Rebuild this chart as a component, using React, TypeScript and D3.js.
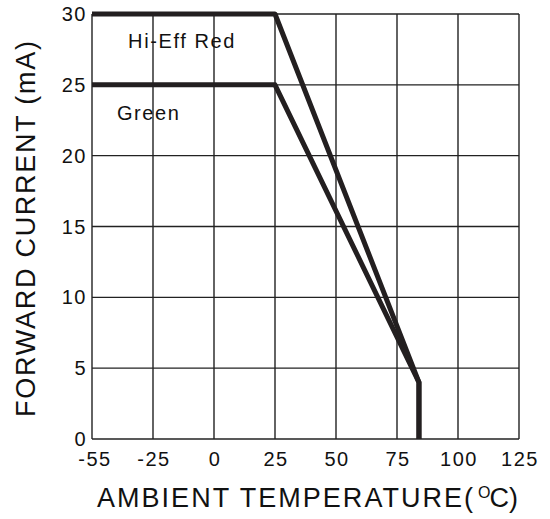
import { useRef, useEffect } from 'react';
import * as d3 from 'd3';

// Tick values and labels
const xTickValues = [-50, -25, 0, 25, 50, 75, 100, 125];
const xTickLabels = ['-55', '-25', '0', '25', '50', '75', '100', '125'];
const yTickValues = [0, 5, 10, 15, 20, 25, 30];

// Derating curves
const redTemp = [-50, 25, 84, 84];
const redCurrent = [30, 30, 4, 0];
const greenTemp = [-50, 25, 84, 84];
const greenCurrent = [25, 25, 4, 0];

const seriesLabels = ['Hi-Eff Red', 'Green'];
const labelTemp = [-35.2, -39.8];
const labelCurrent = [27.6, 22.5];

function App() {
    const svgRef = useRef<SVGSVGElement | null>(null);

    const width = 550;
    const height = 519;
    const margin = { left: 92, top: 14, right: 31, bottom: 80 };
    const font = 'Liberation Sans, Arial, sans-serif';

    useEffect(() => {
        const svg = d3.select(svgRef.current);
        svg.selectAll('*').remove();

        const x = d3.scaleLinear().domain([-50, 125]).range([margin.left, width - margin.right]);
        const y = d3.scaleLinear().domain([0, 30]).range([height - margin.bottom, margin.top]);

        // Grid
        const grid = svg.append('g').attr('stroke', '#222').attr('stroke-width', 1.4);
        grid.selectAll('line.v')
            .data(xTickValues)
            .join('line')
            .attr('class', 'v')
            .attr('x1', (d) => x(d))
            .attr('x2', (d) => x(d))
            .attr('y1', y(0))
            .attr('y2', y(30));
        grid.selectAll('line.h')
            .data(yTickValues)
            .join('line')
            .attr('class', 'h')
            .attr('x1', x(-50))
            .attr('x2', x(125))
            .attr('y1', (d) => y(d))
            .attr('y2', (d) => y(d));

        // Tick labels
        svg.append('g')
            .selectAll('text')
            .data(xTickValues)
            .join('text')
            .attr('x', (d, i) => x(d) + (i === 0 ? 3 : 1))
            .attr('y', y(0) + 27)
            .attr('text-anchor', 'middle')
            .attr('font-family', font)
            .attr('font-size', 20)
            .attr('letter-spacing', 1.5)
            .attr('fill', '#111')
            .text((d, i) => xTickLabels[i]);

        svg.append('g')
            .selectAll('text')
            .data(yTickValues)
            .join('text')
            .attr('x', margin.left - 5)
            .attr('y', (d) => y(d) + 7)
            .attr('text-anchor', 'end')
            .attr('font-family', font)
            .attr('font-size', 20)
            .attr('letter-spacing', 1.5)
            .attr('fill', '#111')
            .text((d) => `${d}`);

        // Curves
        const makeLine = (ts: number[], cs: number[]) =>
            d3.line<number>().x((d) => x(d)).y((d, i) => y(cs[i]))(ts);

        [
            [redTemp, redCurrent],
            [greenTemp, greenCurrent],
        ].forEach(([ts, cs]) => {
            svg.append('path')
                .attr('d', makeLine(ts, cs))
                .attr('fill', 'none')
                .attr('stroke', '#231f20')
                .attr('stroke-width', 5)
                .attr('stroke-linejoin', 'round');
        });

        // Series labels
        svg.append('g')
            .selectAll('text')
            .data(seriesLabels)
            .join('text')
            .attr('x', (d, i) => x(labelTemp[i]))
            .attr('y', (d, i) => y(labelCurrent[i]))
            .attr('font-family', font)
            .attr('font-size', 20)
            .attr('letter-spacing', 1.6)
            .attr('fill', '#111')
            .text((d) => d);

        // Axis titles
        const xTitle = svg
            .append('text')
            .attr('x', 97)
            .attr('y', 507)
            .attr('font-family', font)
            .attr('font-size', 27)
            .attr('fill', '#111');
        xTitle
            .append('tspan')
            .attr('textLength', 376)
            .attr('lengthAdjust', 'spacing')
            .text('AMBIENT TEMPERATURE(');
        xTitle.append('tspan').attr('font-size', 16).attr('dx', 3).attr('dy', -9).text('O');
        xTitle.append('tspan').attr('dx', -1).attr('dy', 9).text('C)');

        svg.append('text')
            .attr('transform', `translate(35, 229) rotate(-90)`)
            .attr('text-anchor', 'middle')
            .attr('font-family', font)
            .attr('font-size', 27)
            .attr('textLength', 376)
            .attr('lengthAdjust', 'spacing')
            .attr('fill', '#111')
            .text('FORWARD CURRENT (mA)');
    }, []);

    return (
        <svg
            ref={svgRef}
            width={width}
            height={height}
            style={{ position: 'absolute', left: 0, top: 0, background: '#fff' }}
        ></svg>
    );
}

export default App;
